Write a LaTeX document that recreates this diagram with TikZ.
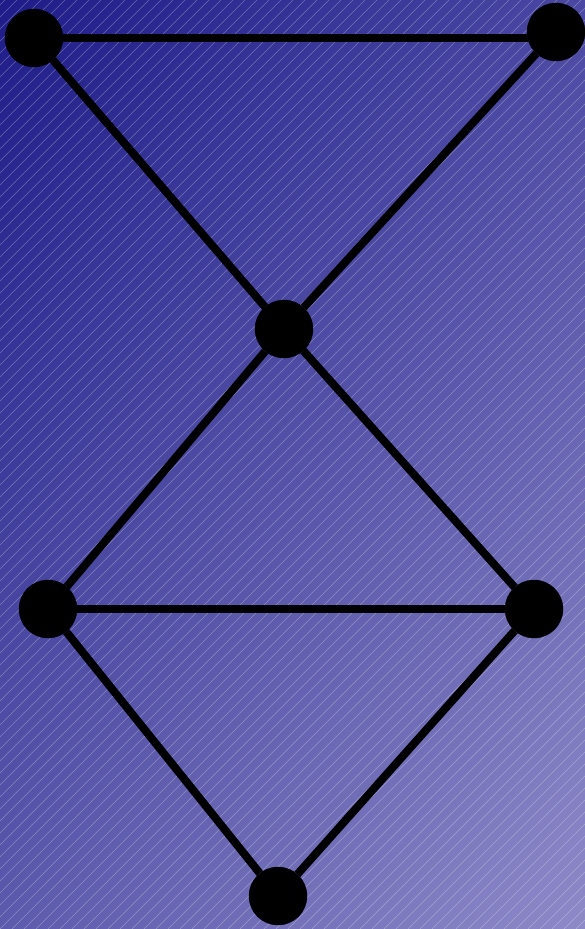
\documentclass[tikz,border=0pt]{standalone}
\usepackage{xcolor}
\usepackage{tikz}
\usetikzlibrary{shadings}
\definecolor{SkyDeep}{HTML}{1E1C88}
\definecolor{SkyMidA}{HTML}{4A48A2}
\definecolor{SkyMidB}{HTML}{5C5AAC}
\definecolor{SkyPale}{HTML}{8E8AC8}
\pgfdeclarelayer{backdrop}
\pgfdeclarelayer{wires}
\pgfsetlayers{backdrop,wires,main}
\tikzset{
  vertex/.style={circle, fill=black, draw=black, inner sep=0pt, minimum size=58pt},
  edge/.style={draw=black, line width=8pt},
  stripe/.style={draw=white, opacity=0.3, line width=0.6pt}
}

\begin{document}
\begin{tikzpicture}[x=1pt, y=-1pt]
  \useasboundingbox (0,0) rectangle (585,929);
  % backdrop
  \begin{pgfonlayer}{backdrop}
    \shade[upper left=SkyDeep, upper right=SkyMidA, lower left=SkyMidB, lower right=SkyPale]
      (0,0) rectangle (585,929);
    \clip (0,0) rectangle (585,929);
    \foreach \k in {-936,-924,...,590}
      \draw[stripe] (\k,929) -- ++(929,-929);
  \end{pgfonlayer}

  \node[vertex] (topleft) at (34,38) {};
  \node[vertex] (topright) at (556,32) {};
  \node[vertex] (hub) at (284,329) {};
  \node[vertex] (midleft) at (48,609) {};
  \node[vertex] (midright) at (534,609) {};
  \node[vertex] (bottom) at (278,896) {};
  \coordinate (topjoin) at (topleft -| topright);

  \begin{pgfonlayer}{wires}
    \draw[edge] (topleft) -- (topjoin);
    \draw[edge] (topleft) -- (hub);
    \draw[edge] (topright) -- (hub);
    \draw[edge] (hub) -- (midleft);
    \draw[edge] (hub) -- (midright);
    \draw[edge] (midleft) -- (midright);
    \draw[edge] (midleft) -- (bottom);
    \draw[edge] (midright) -- (bottom);
  \end{pgfonlayer}
\end{tikzpicture}
\end{document}
